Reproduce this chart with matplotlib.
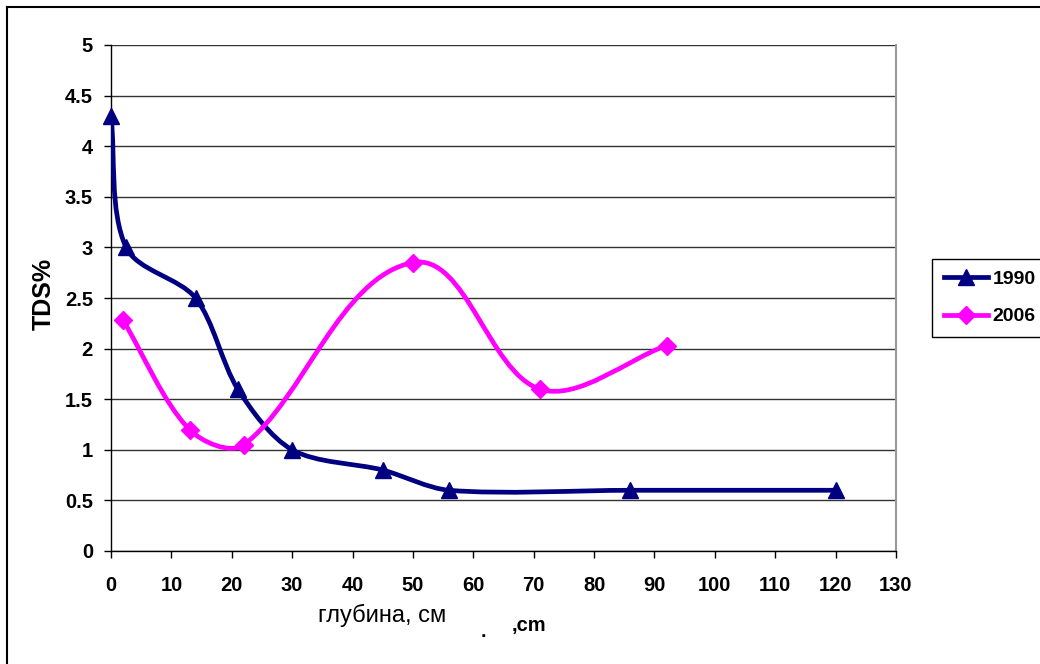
import numpy as np
import matplotlib.pyplot as plt
from matplotlib.path import Path
from matplotlib.patches import PathPatch
from matplotlib.lines import Line2D

plt.rcParams['font.family'] = ['Liberation Sans', 'DejaVu Sans']

# values
depth_1990 = [0, 2.5, 14, 21, 30, 45, 56, 86, 120]
tds_1990 = [4.3, 3.0, 2.5, 1.6, 1.0, 0.8, 0.6, 0.6, 0.6]
depth_2006 = [2, 13, 22, 50, 71, 92]
tds_2006 = [2.28, 1.2, 1.05, 2.85, 1.6, 2.03]

x_ticks = list(range(0, 131, 10))
y_ticks = [0, 0.5, 1, 1.5, 2, 2.5, 3, 3.5, 4, 4.5, 5]

c1990 = '#000080'
c2006 = '#ff00ff'

# px per data unit, used so the smoothing works in screen space like excel
SX, SY = 785 / 130, 506 / 5


def smooth_path(xs, ys, k=0.3):
    # smoothed line: bezier handles along neighbour chord, scaled by segment length
    p = np.column_stack([np.array(xs) * SX, np.array(ys) * SY]).astype(float)
    n = len(p)
    tang = []
    for i in range(n):
        a = p[i - 1] if i > 0 else p[i]
        b = p[i + 1] if i < n - 1 else p[i]
        d = b - a
        tang.append(d / np.hypot(*d))
    verts = [p[0]]
    codes = [Path.MOVETO]
    for i in range(n - 1):
        L = np.hypot(*(p[i + 1] - p[i]))
        verts += [p[i] + tang[i] * L * k, p[i + 1] - tang[i + 1] * L * k, p[i + 1]]
        codes += [Path.CURVE4] * 3
    verts = np.array(verts) / [SX, SY]
    return Path(verts, codes)


fig = plt.figure(figsize=(10.4, 6.64), dpi=100)
ax = fig.add_axes([111 / 1040, 1 - 551 / 664, 785 / 1040, 506 / 664])

for xs, ys, col in [(depth_1990, tds_1990, c1990), (depth_2006, tds_2006, c2006)]:
    ax.add_patch(PathPatch(smooth_path(xs, ys), facecolor='none', edgecolor=col,
                           lw=3.4, capstyle='round', joinstyle='round', zorder=3))

ax.plot(depth_1990, tds_1990, ls='none', marker='^', ms=11.5, color=c1990, zorder=4, clip_on=False)
ax.plot(depth_2006, tds_2006, ls='none', marker='D', ms=9.5, color=c2006, zorder=4, clip_on=False)

ax.set_xlim(0, 130)
ax.set_ylim(0, 5)
ax.set_xticks(x_ticks)
ax.set_yticks(y_ticks)
ax.set_yticklabels(['%g' % v for v in y_ticks])
ax.tick_params(axis='both', labelsize=14.5, width=1)
ax.tick_params(axis='y', length=5, pad=8)
ax.tick_params(axis='x', length=5, pad=13)
for lab in ax.get_xticklabels() + ax.get_yticklabels():
    lab.set_fontweight('bold')

ax.yaxis.grid(True, color='#333333', lw=1)
ax.set_axisbelow(True)
ax.spines['top'].set_visible(False)
ax.spines['right'].set_color('#999999')
ax.spines['right'].set_linewidth(1.5)
ax.spines['left'].set_linewidth(1)
ax.spines['bottom'].set_linewidth(1)

fig.text(44 / 1040, 1 - 294 / 664, 'TDS%', rotation=90, ha='center', va='center',
         fontsize=18, fontweight='bold')
fig.text(318 / 1040, 1 - 622 / 664, 'глубина, см', ha='left', va='baseline', fontsize=17)
fig.text(481 / 1040, 1 - 637 / 664, '.', ha='left', va='baseline', fontsize=14, fontweight='bold')
fig.text(512 / 1040, 1 - 631 / 664, ',cm', ha='left', va='baseline', fontsize=14.5, fontweight='bold')

handles = [Line2D([], [], color=c1990, lw=3.4, marker='^', ms=11.5),
           Line2D([], [], color=c2006, lw=3.4, marker='D', ms=9.5)]
leg = fig.legend(handles, ['1990', '2006'], loc='upper left',
                 bbox_to_anchor=(932 / 1040, 1 - 259 / 664), borderaxespad=0,
                 fancybox=False, edgecolor='black', framealpha=1, handlelength=2.3,
                 handletextpad=0.2, borderpad=0.6, labelspacing=1.0,
                 prop={'size': 14, 'weight': 'bold'})
leg.get_frame().set_linewidth(1)

# outer chart border
fig.add_artist(Line2D([7 / 1040, 1.0], [1 - 7 / 664, 1 - 7 / 664], color='black', lw=1.5))
fig.add_artist(Line2D([7 / 1040, 7 / 1040], [1 - 7 / 664, 0.0], color='black', lw=1.5))

fig.savefig('out.png', dpi=100)
